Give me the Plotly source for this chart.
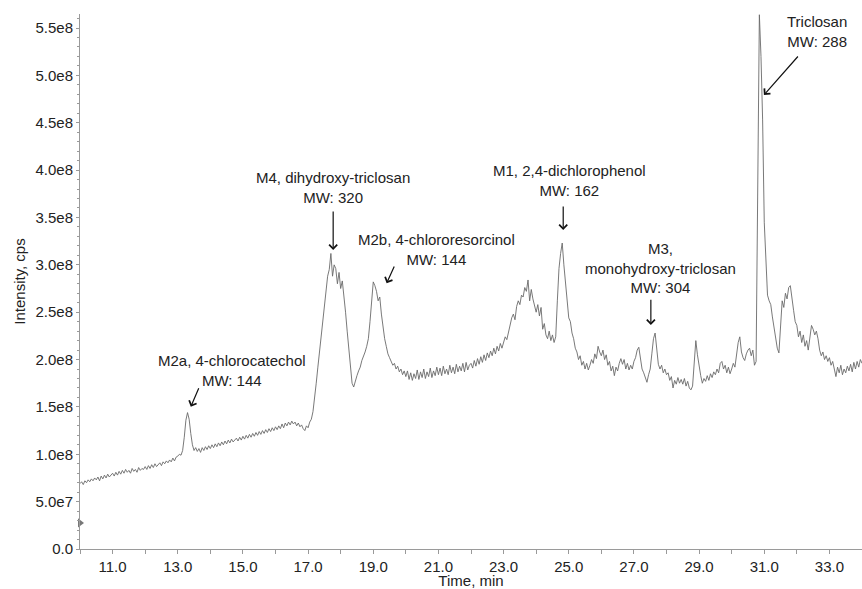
import numpy as np
import plotly.graph_objects as go

# retention time grid, minutes (0.05 min sampling)
time_min = np.round(np.arange(10.0, 34.0001, 0.05), 2)

# intensity, in units of 1e6 cps, one row per minute
intensity_e6 = [
    69, 71, 68, 72, 70, 73, 71, 74, 72, 75, 73, 76, 72, 77, 74, 78, 75, 79, 76, 78,
    80, 77, 81, 78, 82, 79, 83, 80, 84, 81, 83, 80, 85, 82, 84, 81, 86, 83, 85, 84,
    87, 84, 88, 85, 89, 86, 90, 87, 89, 91, 88, 92, 90, 93, 91, 94, 92, 96, 93, 97,
    98, 100, 99, 104, 118, 136, 144, 137, 122, 110, 104, 107, 103, 106, 102, 107, 104, 108, 105, 109,
    106, 110, 107, 111, 108, 112, 109, 113, 110, 114, 111, 115, 112, 116, 113, 115, 117, 114, 118, 115,
    119, 116, 120, 117, 121, 118, 122, 119, 123, 120, 124, 121, 125, 122, 126, 123, 127, 124, 128, 125,
    129, 126, 130, 127, 132, 128, 133, 130, 134, 131, 135, 132, 134, 130, 133, 129, 131, 127, 125, 130,
    128, 134, 137, 145, 158, 175, 192, 208, 228, 242, 262, 275, 288, 295, 312, 288, 300, 296, 280, 292,
    275, 283, 262, 250, 230, 210, 190, 175, 171, 178, 183, 188, 192, 199, 203, 208, 214, 222, 240, 262,
    282, 278, 272, 262, 266, 248, 232, 222, 214, 206, 202, 198, 194, 196, 190, 193, 187, 190, 184, 188,
    182, 188, 179, 186, 178, 185, 180, 189, 179, 187, 181, 190, 180, 187, 182, 191, 181, 188, 183, 192,
    184, 191, 183, 193, 185, 190, 184, 194, 186, 192, 185, 195, 187, 193, 188, 196, 187, 197, 189, 194,
    196, 191, 199, 193, 201, 195, 203, 197, 205, 199, 207, 202, 209, 204, 212, 206, 214, 209, 217, 212,
    218, 224, 221, 230, 236, 244, 248, 242, 256, 262, 258, 268, 266, 276, 272, 284, 262, 274, 264, 256,
    250, 258, 246, 255, 232, 238, 226, 222, 230, 220, 226, 218, 224, 262, 296, 312, 323, 300, 280, 262,
    244, 240, 228, 222, 212, 208, 200, 204, 194, 198, 190, 196, 189, 194, 200, 196, 206, 201, 214, 208,
    204, 210, 200, 205, 194, 198, 188, 193, 183, 192, 188, 196, 201, 195, 200, 190, 196, 189, 194, 190,
    198, 202, 210, 213, 200, 190, 186, 180, 176, 184, 190, 206, 222, 228, 208, 195, 190, 194, 186, 190,
    184, 186, 178, 182, 170, 178, 174, 181, 175, 179, 174, 180, 172, 177, 170, 168, 172, 196, 220, 205,
    192, 183, 175, 180, 177, 183, 178, 185, 181, 187, 184, 190, 186, 196, 198, 190, 194, 186, 192, 185,
    190, 196, 192, 206, 218, 224, 208, 202, 199, 206, 210, 212, 204, 210, 194, 198, 360, 564, 520, 453,
    345, 300, 268, 262, 258, 245, 232, 222, 212, 207, 232, 262, 255, 270, 264, 276, 278, 262, 252, 240,
    236, 224, 230, 218, 226, 214, 220, 210, 222, 236, 232, 226, 230, 222, 210, 204, 208, 200, 204, 198,
    202, 194, 198, 190, 182, 192, 186, 194, 184, 190, 186, 193, 188, 195, 187, 197, 190, 198, 192, 200,
    196,
]
intensity = np.array(intensity_e6) * 1e6

y_tickvals = [0, 5e7, 1e8, 1.5e8, 2e8, 2.5e8, 3e8, 3.5e8, 4e8, 4.5e8, 5e8, 5.5e8]
y_ticktext = ["0.0", "5.0e7", "1.0e8", "1.5e8", "2.0e8", "2.5e8", "3.0e8",
              "3.5e8", "4.0e8", "4.5e8", "5.0e8", "5.5e8"]

# peak labels
peak_labels = [
    "M2a, 4-chlorocatechol<br>MW: 144",
    "M4, dihydroxy-triclosan<br>MW: 320",
    "M2b, 4-chlororesorcinol<br>MW: 144",
    "M1, 2,4-dichlorophenol<br>MW: 162",
    "M3,<br>monohydroxy-triclosan<br>MW: 304",
    "Triclosan<br>MW: 288",
]
threshold_level = 2.75e7

FONT = "Arial, Liberation Sans, sans-serif"

fig = go.Figure()
fig.add_trace(go.Scatter(
    x=time_min, y=intensity, mode="lines",
    line=dict(color="#6a6a6a", width=0.9),
    showlegend=False, hoverinfo="skip",
))
# small threshold marker on the y axis
fig.add_trace(go.Scatter(
    x=[10.0], y=[threshold_level], mode="markers",
    marker=dict(symbol="triangle-right", size=8, color="#777777"),
    cliponaxis=False, showlegend=False, hoverinfo="skip",
))

# label text positions (x in min, y in cps) and arrows (head, tail offset px)
text_pos = [(14.65, 1.88e8), (17.77, 3.816e8), (20.94, 3.165e8),
            (25.01, 3.887e8), (27.83, 2.97e8), (32.62, 5.461e8)]
arrows = [(13.40, 1.502e8, 8.6, -20), (17.77, 3.157e8, 0, -40),
          (19.41, 2.805e8, 8.3, -18.3), (24.83, 3.368e8, 0, -25),
          (27.52, 2.365e8, 0, -26.7), (30.99, 4.793e8, 35.3, -40)]

annotations = []
for label, (tx, ty) in zip(peak_labels, text_pos):
    annotations.append(dict(
        x=tx, y=ty, xref="x", yref="y", text=label, showarrow=False,
        xanchor="center", yanchor="middle", align="center",
        font=dict(family=FONT, size=15, color="#222222"),
    ))
for hx, hy, ax, ay in arrows:
    annotations.append(dict(
        x=hx, y=hy, xref="x", yref="y", text="", showarrow=True,
        ax=ax, ay=ay, arrowhead=4, arrowsize=1.3, arrowwidth=1.2,
        arrowcolor="#111111", standoff=0, startstandoff=0,
    ))

fig.update_layout(
    width=862, height=589,
    margin=dict(l=80, r=0, t=14, b=40, autoexpand=False),
    paper_bgcolor="white", plot_bgcolor="white",
    font=dict(family=FONT, size=15, color="#222222"),
    annotations=annotations,
)
fig.update_xaxes(
    range=[10.0, 34.0], tick0=11, dtick=2, tickformat=".1f",
    automargin=False, showgrid=False, zeroline=False,
    showline=True, linecolor="#9a9a9a", linewidth=1,
    ticks="outside", ticklen=4, tickcolor="#9a9a9a",
    minor=dict(dtick=1, tick0=10, ticks="outside", ticklen=4, tickcolor="#9a9a9a"),
    tickfont=dict(size=15, color="#222222"),
    title=dict(text="Time, min", font=dict(size=15), standoff=0),
)
fig.update_yaxes(
    range=[0, 5.648e8], tickmode="array",
    tickvals=y_tickvals, ticktext=y_ticktext,
    automargin=False, showgrid=False, zeroline=False,
    showline=True, linecolor="#9a9a9a", linewidth=1,
    ticks="outside", ticklen=3, tickcolor="#9a9a9a",
    minor=dict(dtick=1e7, tick0=0, ticks="outside", ticklen=2, tickcolor="#9a9a9a"),
    tickfont=dict(size=15, color="#222222"),
    title=dict(text="Intensity, cps", font=dict(size=15), standoff=6),
)

# drop the default page margin so the figure fills the window exactly
fig.write_html(
    "out.html",
    config={"displayModeBar": False},
    post_script="document.body.style.margin='0';document.body.style.overflow='hidden';",
)
